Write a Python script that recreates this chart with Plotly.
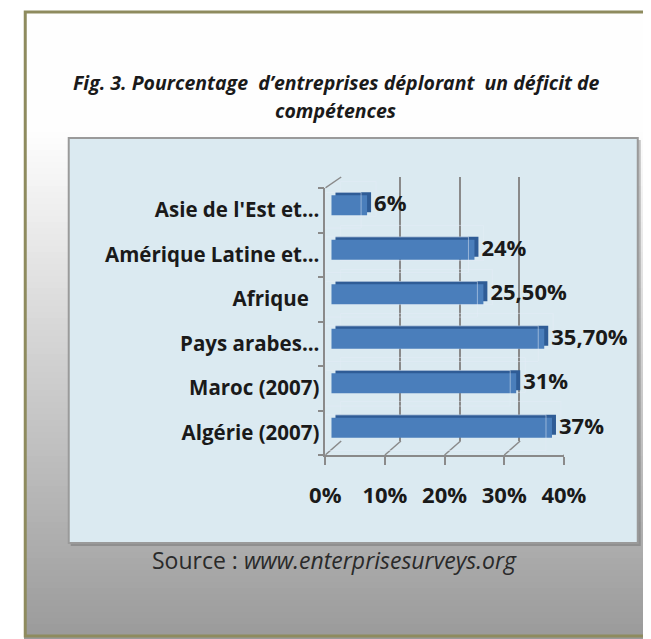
import plotly.graph_objects as go

# ---- data ----
categories = ["Asie de l'Est et...", "Amérique Latine et...", "Afrique\u00a0\u00a0",
              "Pays arabes...", "Maroc (2007)", "Algérie (2007)"]
values = [6, 24, 25.5, 35.7, 31, 37]
value_labels = ["6%", "24%", "25,50%", "35,70%", "31%", "37%"]
x_tickvals = [0, 10, 20, 30, 40]
x_ticktext = ["0%", "10%", "20%", "30%", "40%"]

OFF = 8
W, H = 661, 639 - OFF
SX, AX = 0.9426, 15.65     # observed horizontal mapping of the capture
def pagex(t):
    return (t - AX) / SX
def px(t):
    return (pagex(t) - OFF) / W
def py(p):
    return 1 - (p - OFF) / H

FONT = "'Open Sans', Lato, sans-serif"
GRID = "#8a8a8a"
cat_order = list(reversed(categories))

fig = go.Figure()
fig.add_trace(go.Bar(y=categories, x=values, orientation="h", xaxis="x", yaxis="y",
                     marker=dict(color="rgba(0,0,0,0)"), hoverinfo="skip", showlegend=False))
fig.add_trace(go.Bar(y=categories, x=values, orientation="h", xaxis="x2", yaxis="y2",
                     width=0.45, marker=dict(color="#2f5c96", line=dict(width=0)),
                     text=value_labels, textposition="outside", cliponaxis=False,
                     constraintext="none",
                     textfont=dict(family=FONT, size=22, color="#1a1a1a", weight="bold"),
                     hoverinfo="skip", showlegend=False))
fig.add_trace(go.Bar(y=categories, x=values, orientation="h", xaxis="x3", yaxis="y3",
                     width=0.45, marker=dict(color="#4a7ebb", line=dict(width=0)),
                     hoverinfo="skip", showlegend=False))
fig.add_trace(go.Bar(y=categories, x=values, orientation="h", xaxis="x4", yaxis="y4",
                     marker=dict(color="rgba(0,0,0,0)"), hoverinfo="skip", showlegend=False))

def xa(x0, x1, **kw):
    d = dict(domain=[px(x0), px(x1)], range=[0, 40], showgrid=False, zeroline=False,
             showticklabels=False, ticks="", fixedrange=True)
    d.update(kw)
    return d

def ya(y0, y1, **kw):
    d = dict(domain=[py(y1), py(y0)], range=[-0.5, 5.5], type="category",
             categoryorder="array", categoryarray=cat_order, showgrid=False,
             zeroline=False, showticklabels=False, ticks="", fixedrange=True)
    d.update(kw)
    return d

FX0, FX1, FY0, FY1 = 325, 564, 188, 455
DX, DY = 15, -14
DXP = DX / SX

layout = dict(
    width=W, height=H, autosize=False,
    margin=dict(l=0, r=0, t=0, b=0),
    paper_bgcolor="#ffffff", plot_bgcolor="rgba(0,0,0,0)",
    showlegend=False,
    xaxis=xa(FX0 + DX, FX1 + DX, anchor="y", showgrid=True, gridcolor=GRID, gridwidth=1.5,
             tickvals=x_tickvals),
    yaxis=ya(FY0 + DY + 3, FY1 + DY, anchor="x"),
    xaxis2=xa(FX0 + 10, FX1 + 10, anchor="y2"),
    yaxis2=ya(FY0 - 8, FY1 - 8, anchor="x2"),
    xaxis3=xa(FX0 + 6, FX1 + 6, anchor="y3"),
    yaxis3=ya(FY0 - 5, FY1 - 5, anchor="x3"),
    xaxis4=xa(FX0, FX1, anchor="y4", showline=True, linecolor=GRID, linewidth=1.5,
              ticks="outside", ticklen=8, tickcolor=GRID, tickwidth=1.5,
              tickvals=x_tickvals, ticktext=x_ticktext, showticklabels=True,
              ticklabelstandoff=12,
              tickfont=dict(family=FONT, size=22, color="#1a1a1a", weight="bold")),
    yaxis4=ya(FY0, FY1, anchor="x4", showline=True, linecolor=GRID, linewidth=1.5,
              ticks="outside", tickson="boundaries", ticklen=6, tickcolor=GRID, tickwidth=1.5,
              showticklabels=True,
              tickfont=dict(family=FONT, size=20.5, color="#1a1a1a", weight="bold")),
)

shapes = []
top, bot = 12, 645
step = 6
p = top
while p < bot:
    mid = p + step / 2
    t = min(max((mid - 130) / (639 - 130), 0), 1)
    c = int(round(254 - t * 100))
    shapes.append(dict(type="rect", xref="paper", yref="paper", x0=max(px(12), 0), x1=1.05,
                       y0=py(p + step), y1=py(p), line=dict(width=0),
                       fillcolor=f"rgb({c},{c},{c})", layer="below"))
    p += step
shapes.append(dict(type="rect", xref="paper", yref="paper", x0=max(px(12), 0) + 0.002, x1=1.1,
                   y0=py(636), y1=py(12), line=dict(color="#8e8b5e", width=3),
                   fillcolor="rgba(0,0,0,0)", layer="below"))
shapes.append(dict(type="rect", xref="paper", yref="paper", x0=px(70), x1=px(641),
                   y0=py(546), y1=py(140), line=dict(width=0),
                   fillcolor="rgba(90,90,90,0.35)", layer="below"))
shapes.append(dict(type="rect", xref="paper", yref="paper", x0=px(68), x1=px(638),
                   y0=py(543), y1=py(138), line=dict(color="#9a9a9a", width=2),
                   fillcolor="#dbeaf1", layer="below"))
for v in x_tickvals:
    shapes.append(dict(type="line", xref="x4", xsizemode="pixel", xanchor=v, x0=0, x1=DXP,
                       yref="paper", y0=py(FY1), y1=py(FY1 + DY),
                       line=dict(color=GRID, width=1.5), layer="below"))
shapes.append(dict(type="line", xref="x4", xsizemode="pixel", xanchor=0, x0=0, x1=DXP,
                   yref="paper", y0=py(FY0), y1=py(FY0 + DY + 3),
                   line=dict(color=GRID, width=1.5), layer="below"))
layout["shapes"] = shapes

TFONT = dict(family="'Open Sans', sans-serif", size=19.5, color="#1a1a1a")
annotations = [
    dict(text="<b><i>Fig. 3. Pourcentage&nbsp; d’entreprises déplorant&nbsp; un déficit de</i></b>",
         xref="paper", yref="paper", x=px(336), y=py(82), xanchor="center", yanchor="middle",
         showarrow=False, font=TFONT),
    dict(text="<b><i>compétences</i></b>",
         xref="paper", yref="paper", x=px(335), y=py(110), xanchor="center", yanchor="middle",
         showarrow=False, font=TFONT),
    dict(text="Source : <i>www.enterprisesurveys.org</i>",
         xref="paper", yref="paper", x=px(334), y=py(560), xanchor="center", yanchor="middle",
         showarrow=False, font=dict(family="'Open Sans', sans-serif", size=23, color="#2a2a2a")),
]
layout["annotations"] = annotations

fig.update_layout(**layout)
fig.write_html("out.html")
